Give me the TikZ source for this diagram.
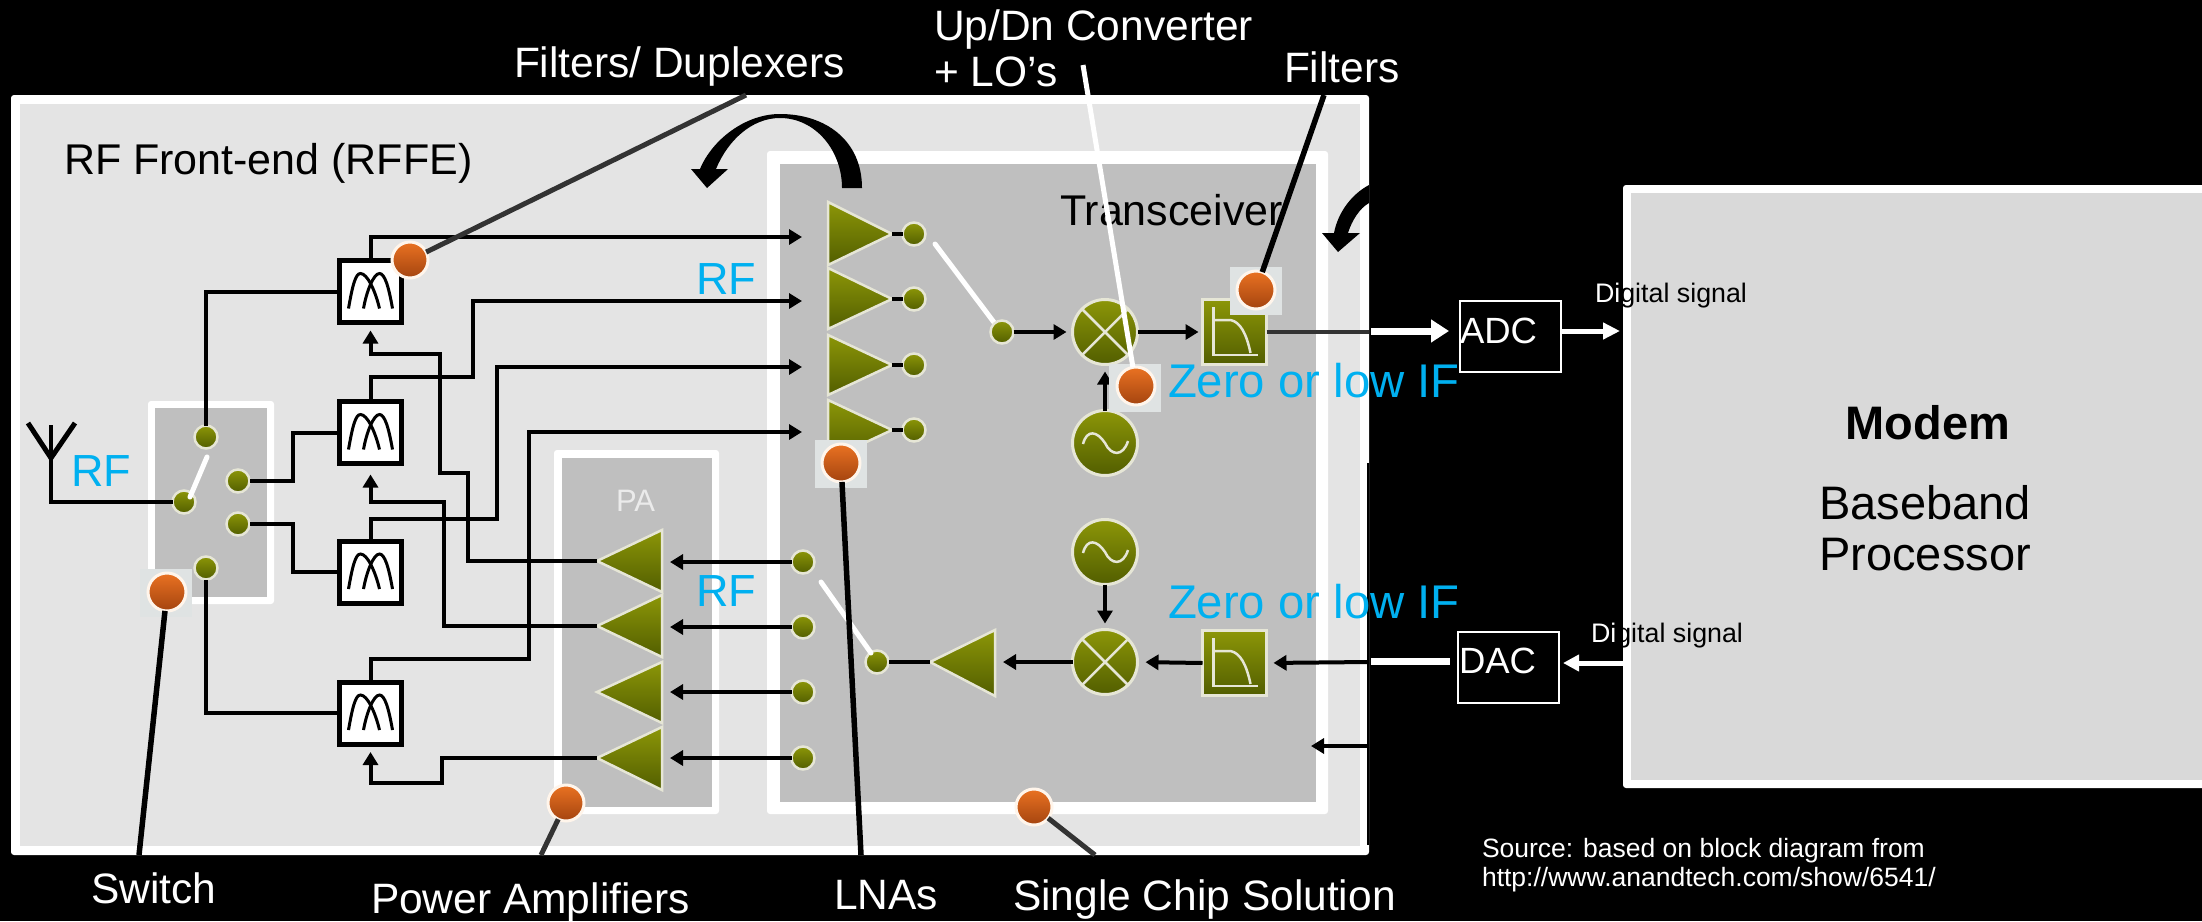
\documentclass[tikz,border=0pt]{standalone}
\usepackage{fontspec}
\setmainfont{Liberation Sans}
\usetikzlibrary{arrows.meta}
\definecolor{rfblue}{HTML}{00B0F0}
\definecolor{olivetop}{HTML}{8C9608}
\definecolor{olivebot}{HTML}{525E00}
\definecolor{edgepale}{HTML}{E6E6D6}
\definecolor{frameG}{HTML}{E4E4E4}
\definecolor{innerG}{HTML}{BFBFBF}
\definecolor{modemG}{HTML}{D9D9D9}
\definecolor{orangetop}{HTML}{EA7222}
\definecolor{orangebot}{HTML}{A4440F}
\definecolor{patchG}{HTML}{DFE3E3}
\definecolor{leaderG}{HTML}{333333}
\newcommand{\txt}[1]{\fontsize{#1pt}{#1pt}\selectfont}
\tikzset{
  lbl/.style={anchor=base west,inner sep=0pt,outer sep=0pt,text=white,font=\txt{42.5}},
  dark/.style={lbl,text=black,font=\txt{43}},
  rfl/.style={lbl,text=rfblue,font=\txt{45}},
  zif/.style={lbl,text=rfblue,font=\txt{47.3}},
  sig/.style={lbl,text=black,font=\txt{26.5}},
  modemtext/.style={anchor=base,inner sep=0pt,outer sep=0pt,text=black,font=\txt{47}},
  wire/.style={line width=4pt,black},
  arr/.style={wire,-{Triangle[length=13pt,width=15pt]}},
  filt/.style={draw=black,line width=5pt,fill=white,minimum width=62pt,minimum height=62pt,inner sep=0pt,outer sep=0pt},
  pdot/.style={circle,draw=edgepale,line width=2.5pt,top color=olivetop,bottom color=olivebot,minimum size=23pt,inner sep=0pt,outer sep=0pt},
  olivetri/.style={draw=edgepale,line width=2.5pt,line join=miter,top color=olivetop,bottom color=olivebot},
  bigc/.style={circle,draw=edgepale,line width=3pt,top color=olivetop,bottom color=olivebot,minimum size=65pt,inner sep=0pt,outer sep=0pt},
  lpf/.style={rectangle,draw=edgepale,line width=3pt,top color=olivetop,bottom color=olivebot,minimum width=64pt,minimum height=65pt,inner sep=0pt,outer sep=0pt},
  odot/.style={circle,draw=white!92!orange,line width=3pt,top color=orangetop,bottom color=orangebot,minimum size=36pt,inner sep=0pt,outer sep=0pt},
  patch/.style={fill=patchG,inner sep=0pt,outer sep=0pt,minimum width=52pt,minimum height=48pt},
  paleline/.style={edgepale,line width=2.5pt},
  whitearm/.style={white,line width=5pt,line cap=round},
  boxw/.style={draw=white,line width=2pt,fill=black,inner sep=0pt,outer sep=0pt,minimum width=101pt,minimum height=71pt},
  lead/.style={line width=5.5pt,black},
}
\newcommand{\frameb}[6]{%
  \fill[white,rounded corners=3pt] (#1,#2) rectangle (#3,#4);
  \fill[#5] (#1+#6,#2+#6) rectangle (#3-#6,#4-#6);}
\newcommand{\filtersym}[1]{%
  \begin{scope}[shift={(#1.center)}]
    \draw[line width=3pt,black] (-22,17) .. controls (-18,-6) and (-15,-18) .. (-10,-18) .. controls (-3,-18) and (5,0) .. (9,17);
    \draw[line width=3pt,black] (-7,17) .. controls (-4,0) and (3,-18) .. (9,-18) .. controls (14,-18) and (18,-6) .. (22,17);
  \end{scope}}
\newcommand{\mixsym}[1]{%
  \draw[paleline] (#1.north west) -- (#1.south east);
  \draw[paleline] (#1.north east) -- (#1.south west);}
\newcommand{\oscsym}[1]{%
  \begin{scope}[shift={(#1.center)}]
    \draw[paleline] (-22,1) .. controls (-18,-14) and (-8,-12) .. (0,0) .. controls (6,13) and (18,14) .. (23,-2);
  \end{scope}}
\newcommand{\lpfsym}[1]{%
  \begin{scope}[shift={(#1.center)}]
    \draw[paleline] (-21,-25) -- (-21,23) -- (23,23);
    \draw[paleline] (-21,-12) -- (-4,-12) .. controls (6,-10) and (12,2) .. (16,21);
  \end{scope}}
\newcommand{\tri}[4]{%
  \filldraw[olivetri] #2 -- #3 -- #4 -- cycle;\coordinate (#1) at #3;}
\begin{document}
\begin{tikzpicture}[x=1pt,y=-1pt]
\fill[black] (0,0) rectangle (2202,921);
\useasboundingbox (0,0) rectangle (2202,921);
% containers
\frameb{11}{95}{1369}{855}{frameG}{9}
\fill[black] (1366.5,463) rectangle (1369,845);
\frameb{767}{151}{1328}{814}{innerG}{12.5}
\frameb{554}{450}{719}{814}{innerG}{7.5}
\frameb{148}{401}{274}{604}{innerG}{7}
\frameb{1623}{185}{2210}{788}{modemG}{8}
% titles inside
\node[dark] (rffe) at (64,174) {RF Front-end (RFFE)};
\node[dark] (trx) at (1060,225) {Transceiver};
\node[lbl,text=white!92!black,font=\txt{31}] (pa) at (616,511) {PA};
% filters
\node[filt] (f1) at (370.5,291.5) {};
\node[filt] (f2) at (370.5,432.5) {};
\node[filt] (f3) at (370.5,572) {};
\node[filt] (f4) at (370.5,713) {};
\filtersym{f1}\filtersym{f2}\filtersym{f3}\filtersym{f4}
% switch
\node[pdot] (st) at (206,437) {};
\node[pdot] (sr1) at (238,481) {};
\node[pdot] (sr2) at (238,524) {};
\node[pdot] (sc) at (184,502) {};
\node[pdot] (sb) at (206,568) {};
\coordinate (armA) at (190,497);
\coordinate (armB) at (207,457);
\draw[whitearm] (armA) -- (armB);
% antenna
\coordinate (antL) at (28,423);
\coordinate (antR) at (75,423);
\coordinate (antT) at (51,425);
\coordinate (antJ) at (51,458);
\coordinate (antB) at (51,502);
\draw[line width=5pt,black,line join=miter] (antL) -- (antJ) -- (antR);
\draw[wire] (antT) -- (antB) -- (sc);
% LNA triangles
\tri{l1}{(828,202)}{(892,234)}{(828,265)}
\tri{l2}{(828,268)}{(892,299)}{(828,329)}
\tri{l3}{(828,335)}{(892,365)}{(828,395)}
\tri{l4}{(828,400)}{(892,430)}{(828,460)}
\node[pdot] (ln1) at (914,234) {};
\node[pdot] (ln2) at (914,299) {};
\node[pdot] (ln3) at (914,365) {};
\node[pdot] (ln4) at (914,430) {};
\foreach \a/\b in {l1/ln1,l2/ln2,l3/ln3,l4/ln4} \draw[wire] (\a) -- (\b);
\coordinate (l1in) at (802,237);
\coordinate (l2in) at (802,301);
\coordinate (l3in) at (802,367);
\coordinate (l4in) at (802,432);
% PA triangles
\tri{p1}{(662,530)}{(597,561)}{(662,592)}
\tri{p2}{(662,595)}{(597,626)}{(662,657)}
\tri{p3}{(662,662)}{(597,692)}{(662,723)}
\tri{p4}{(662,727)}{(597,758)}{(662,790)}
\node[pdot] (pn1) at (803,562) {};
\node[pdot] (pn2) at (803,627) {};
\node[pdot] (pn3) at (803,692) {};
\node[pdot] (pn4) at (803,758) {};
\coordinate (p1in) at (670,562);
\coordinate (p2in) at (670,627);
\coordinate (p3in) at (670,692);
\coordinate (p4in) at (670,758);
\foreach \a/\b in {pn1/p1in,pn2/p2in,pn3/p3in,pn4/p4in} \draw[arr] (\a) -- (\b);
% wires RF front end
\draw[wire] (f1.west) -| (st);
\draw[wire] (f4.west) -| (sb);
\draw[wire] (f2.west) -- (293,432.5) |- (sr1);
\draw[wire] (f3.west) -- (293,572) |- (sr2);
\draw[arr] (f1.north) |- (l1in);
\draw[arr] (f2.north) |- (473,377) |- (l2in);
\draw[arr] (f3.north) |- (497,519) |- (l3in);
\draw[arr] (f4.north) |- (529,659) |- (l4in);
\draw[arr,shorten >=8pt] (p1) -| (468,473) -| (440,354) -| (f1.south);
\draw[arr,shorten >=11pt] (p2) -| (444,502) -| (f2.south);
\draw[arr,shorten >=8pt] (p4) -| (442,783) -| (f4.south);
% transceiver receive chain
\coordinate (rxarmA) at (935,244);
\coordinate (rxarmB) at (996,325);
\draw[whitearm] (rxarmA) -- (rxarmB);
\node[pdot] (rxn) at (1002,332) {};
\node[bigc] (mx1) at (1105,332) {};
\mixsym{mx1}
\node[lpf] (lp1) at (1234.5,332) {};
\lpfsym{lp1}
\node[bigc] (osc1) at (1105,443) {};
\oscsym{osc1}
\draw[arr,shorten >=6pt] (rxn) -- (mx1);
\draw[arr,shorten >=4pt] (mx1) -- (lp1);
\draw[arr,shorten >=7pt] (osc1) -- (mx1);
\coordinate (rxout) at (1369,332);
\draw[line width=4pt,leaderG] (lp1) -- (rxout);
% transmit chain
\node[bigc] (osc2) at (1105,552) {};
\oscsym{osc2}
\node[bigc] (mx2) at (1105,662) {};
\mixsym{mx2}
\node[lpf] (lp2) at (1234.5,663) {};
\lpfsym{lp2}
\tri{t1}{(995,630)}{(930,662)}{(995,696)}
\node[pdot] (txn) at (877,662) {};
\coordinate (t1b) at (995,662);
\coordinate (txin) at (1369,662);
\coordinate (lowin) at (1369,746);
\coordinate (lowend) at (1311,746);
\coordinate (txarmA) at (821,582);
\coordinate (txarmB) at (871,653);
\draw[whitearm] (txarmA) -- (txarmB);
\draw[arr,shorten >=6pt] (osc2) -- (mx2);
\draw[arr,shorten >=8pt] (lp2.west) -- (mx2.east);
\draw[arr,shorten >=8pt] (mx2.west) -- (t1b);
\draw[arr,shorten >=7pt] (txin) -- (lp2.east);
\draw[wire] (t1) -- (txn);
\draw[arr] (lowin) -- (lowend);
% curved arrows
\fill[black] (862,188) .. controls (862,140) and (825,114) .. (780,114)
  .. controls (745,114) and (712,140) .. (700,169) -- (691,169) -- (707,188) -- (728,169) -- (716,169)
  .. controls (728,140) and (752,118) .. (780,118) .. controls (815,118) and (842,150) .. (842,188) -- cycle;
\fill[black] (1369,185) .. controls (1352,194) and (1338,212) .. (1334,233) -- (1322,233) -- (1338,252) -- (1360,233) -- (1348,233)
  .. controls (1352,220) and (1360,208) .. (1369,203) -- cycle;
% RF and IF labels
\node[rfl] (rf1) at (71,486) {RF};
\node[rfl] (rf2) at (696,294) {RF};
\node[rfl] (rf3) at (696,606) {RF};
% outer labels
\node[lbl] (lswitch) at (91,903) {Switch};
\node[lbl] (lpa) at (371,913) {Power Amplifiers};
\node[lbl] (llna) at (834,909) {LNAs};
\node[lbl] (lchip) at (1013,910) {Single Chip Solution};
\node[lbl] (lfd) at (514,77) {Filters/ Duplexers};
\node[lbl] (lup) at (934,40) {Up/Dn Converter};
\node[lbl] (llo) at (934,86) {+ LO’s};
\node[lbl] (lflt) at (1284,82) {Filters};
% call-out dots
\node[patch] (pa1) at (841,463.5) {};
\node[patch] (pa2) at (1135,387.5) {};
\node[patch] (pa3) at (1256,291) {};
\node[patch] (pa4) at (166,592.5) {};
\node[odot] (d1) at (410,260) {};
\node[odot,minimum size=38pt] (d2) at (167,592) {};
\node[odot] (d3) at (566,803) {};
\node[odot,minimum size=38pt] (d4) at (841,463) {};
\node[odot] (d5) at (1034,807) {};
\node[odot,minimum size=38pt] (d6) at (1136,386) {};
\node[odot,minimum size=38pt] (d7) at (1256,290) {};
\coordinate (e1) at (746,95);
\coordinate (e2) at (139,855);
\coordinate (e3) at (541,855);
\coordinate (e4) at (861,855);
\coordinate (e5) at (1095,855);
\coordinate (e6) at (1083,65);
\coordinate (e7) at (1324,95);
\draw[line width=5pt,leaderG] (d1) -- (e1);
\draw[lead] (d2) -- (e2);
\draw[line width=5pt,leaderG] (d3) -- (e3);
\draw[lead] (d4) -- (e4);
\draw[line width=5pt,leaderG] (d5) -- (e5);
\draw[line width=5pt,white] (d6) -- (e6);
\draw[lead] (d7) -- (e7);
% ADC, DAC, modem
\node[boxw] (adc) at (1510.5,336) {};
\node[lbl,font=\txt{36.5}] (adct) at (1460,343) {ADC};
\node[boxw] (dac) at (1508.5,667) {};
\node[lbl,font=\txt{36.5}] (dact) at (1459,673) {DAC};
\coordinate (adcin) at (1371,331);
\coordinate (dacin) at (1371,661);
\coordinate (adcL) at (1449,331);
\coordinate (dacL) at (1450,661);
\coordinate (modemL) at (1623,663);
\coordinate (modemA) at (1620,331);
\coordinate (dacR) at (1563,663);
\coordinate (adcR) at (1561,331);
\draw[line width=7pt,white,-{Triangle[length=18pt,width=22pt]}] (adcin) -- (adcL);
\draw[line width=5pt,white,-{Triangle[length=17pt,width=16pt]}] (adcR) -- (modemA);
\draw[line width=7pt,white] (dacin) -- (dacL);
\draw[line width=5pt,white,-{Triangle[length=16pt,width=16pt]}] (modemL) -- (dacR);
\node[zif] (zif1) at (1168,397) {Zero or low IF};
\node[zif] (zif2) at (1168,618) {Zero or low IF};
\node[modemtext,font=\txt{47}\bfseries] (mod) at (1928,439) {Modem};
\node[modemtext] (bb) at (1925,519) {Baseband};
\node[modemtext] (proc) at (1925,570) {Processor};
\node[sig,font=\txt{26.8}] (ds1) at (1595,302) {\textcolor{white}{Di}gital signal};
\node[sig,font=\txt{26.8}] (ds2) at (1591,642) {\textcolor{white}{Di}gital signal};
\node[lbl,font=\txt{26.5}] (src) at (1482,857) {Source: based on block diagram from};
\node[lbl,font=\txt{26.5}] (src2) at (1482,886) {http://www.anandtech.com/show/6541/};
\end{tikzpicture}
\end{document}
